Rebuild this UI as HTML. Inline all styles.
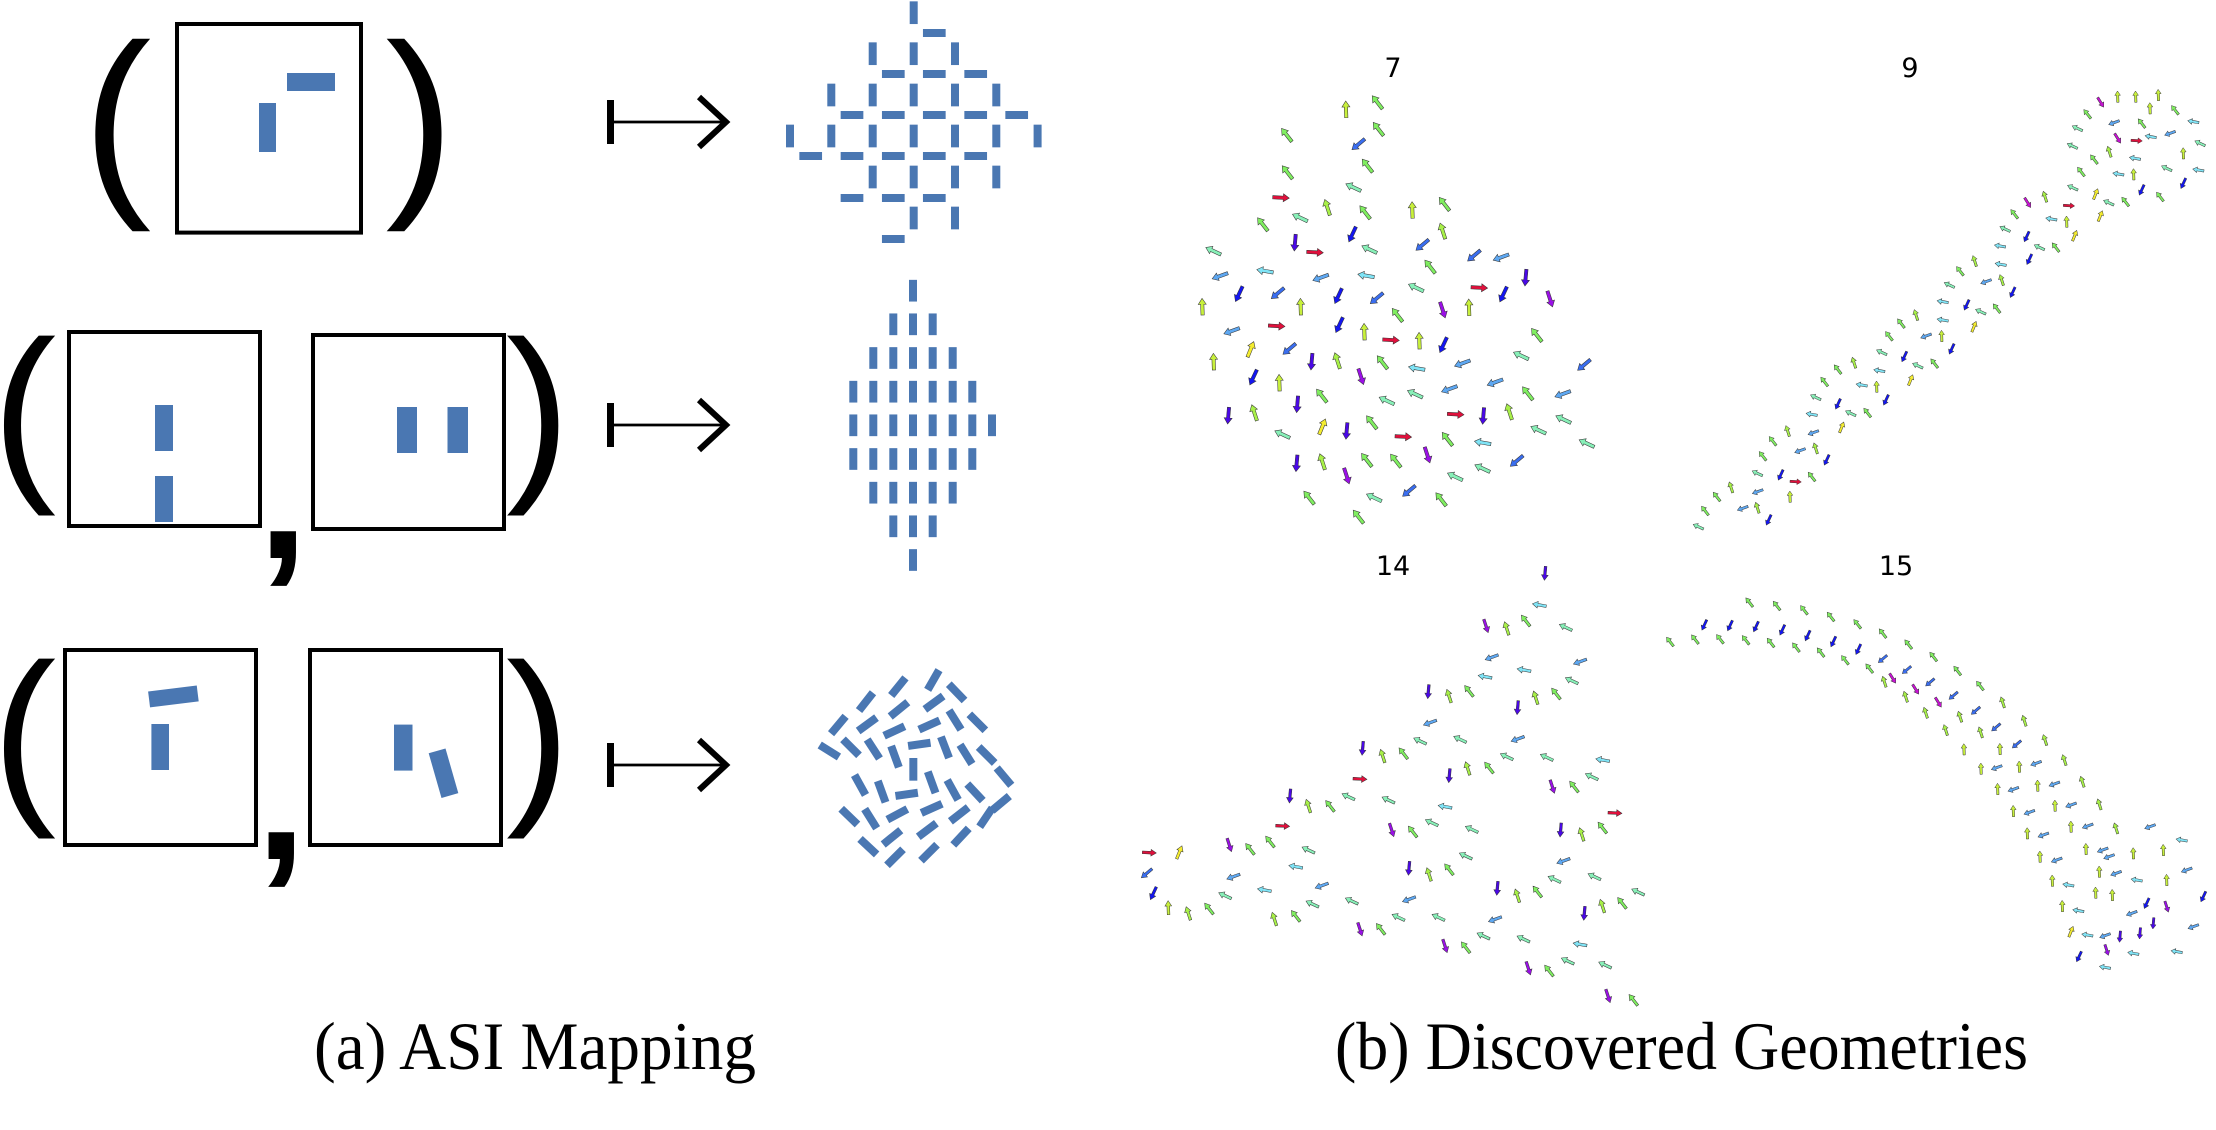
<!DOCTYPE html>
<html><head><meta charset="utf-8"><style>html,body{margin:0;padding:0;background:#fff}svg{display:block}</style></head><body>
<svg xmlns="http://www.w3.org/2000/svg" width="2216" height="1130" viewBox="0 0 2216 1130">
<defs>
<path id="A" d="M-25,-5L7,-5L7,-12L25,0L7,12L7,5L-25,5Z" stroke="#333" stroke-width="1.6"/>
<path id="B" d="M-21,-4L5,-4L5,-10L21,0L5,10L5,4L-21,4Z" stroke="#333" stroke-width="1.5"/>
<path id="C" d="M-17,-3.5L4,-3.5L4,-8.5L17,0L4,8.5L4,3.5L-17,3.5Z" stroke="#333" stroke-width="1.4"/>
<use id="Au" href="#A" transform="rotate(-92)" fill="#c8f03c"/><use id="Av" href="#A" transform="rotate(-108)" fill="#a8f048"/><use id="Ag" href="#A" transform="rotate(-128)" fill="#80ee60"/><use id="Am" href="#A" transform="rotate(-155)" fill="#88f0b8"/><use id="Ac" href="#A" transform="rotate(-170)" fill="#80e4f6"/><use id="As" href="#A" transform="rotate(160)" fill="#5ea8f2"/><use id="Ab" href="#A" transform="rotate(140)" fill="#3a6ef0"/><use id="An" href="#A" transform="rotate(115)" fill="#1416f0"/><use id="Ad" href="#A" transform="rotate(95)" fill="#4a08e6"/><use id="Ap" href="#A" transform="rotate(72)" fill="#9a10e6"/><use id="Ak" href="#A" transform="rotate(58)" fill="#c812d4"/><use id="Ar" href="#A" transform="rotate(3)" fill="#e0103c"/><use id="Ay" href="#A" transform="rotate(-68)" fill="#f4ec30"/>
<use id="Bu" href="#B" transform="rotate(-92)" fill="#c8f03c"/><use id="Bv" href="#B" transform="rotate(-108)" fill="#a8f048"/><use id="Bg" href="#B" transform="rotate(-128)" fill="#80ee60"/><use id="Bm" href="#B" transform="rotate(-155)" fill="#88f0b8"/><use id="Bc" href="#B" transform="rotate(-170)" fill="#80e4f6"/><use id="Bs" href="#B" transform="rotate(160)" fill="#5ea8f2"/><use id="Bb" href="#B" transform="rotate(140)" fill="#3a6ef0"/><use id="Bn" href="#B" transform="rotate(115)" fill="#1416f0"/><use id="Bd" href="#B" transform="rotate(95)" fill="#4a08e6"/><use id="Bp" href="#B" transform="rotate(72)" fill="#9a10e6"/><use id="Bk" href="#B" transform="rotate(58)" fill="#c812d4"/><use id="Br" href="#B" transform="rotate(3)" fill="#e0103c"/><use id="By" href="#B" transform="rotate(-68)" fill="#f4ec30"/>
<use id="Cu" href="#C" transform="rotate(-92)" fill="#c8f03c"/><use id="Cv" href="#C" transform="rotate(-108)" fill="#a8f048"/><use id="Cg" href="#C" transform="rotate(-128)" fill="#80ee60"/><use id="Cm" href="#C" transform="rotate(-155)" fill="#88f0b8"/><use id="Cc" href="#C" transform="rotate(-170)" fill="#80e4f6"/><use id="Cs" href="#C" transform="rotate(160)" fill="#5ea8f2"/><use id="Cb" href="#C" transform="rotate(140)" fill="#3a6ef0"/><use id="Cn" href="#C" transform="rotate(115)" fill="#1416f0"/><use id="Cd" href="#C" transform="rotate(95)" fill="#4a08e6"/><use id="Cp" href="#C" transform="rotate(72)" fill="#9a10e6"/><use id="Ck" href="#C" transform="rotate(58)" fill="#c812d4"/><use id="Cr" href="#C" transform="rotate(3)" fill="#e0103c"/><use id="Cy" href="#C" transform="rotate(-68)" fill="#f4ec30"/>
<rect id="V" x="-4" y="-11.35" width="8" height="22.7"/>
<rect id="H" x="-11.35" y="-4" width="22.7" height="8"/>
<rect id="W" x="-4" y="-10.85" width="8" height="21.7"/>
<rect id="Z" x="-34" y="-12" width="68" height="24"/>
</defs>

<!-- LEFT PANEL -->
<g font-family="Liberation Sans, Arial, sans-serif" fill="#000">
<text x="82.5" y="188.5" font-size="206.7">(</text>
<text x="385.5" y="188.5" font-size="206.7">)</text>
<text x="-8" y="475.5" font-size="193">(</text>
<text x="506" y="475.5" font-size="193">)</text>
<text x="-8" y="798.5" font-size="193">(</text>
<text x="506" y="798.5" font-size="193">)</text>
<text x="258" y="558" font-size="180" font-weight="bold">,</text>
<text x="256" y="859" font-size="180" font-weight="bold">,</text>
</g>
<g fill="none" stroke="#000" stroke-width="4">
<rect x="177" y="24" width="184" height="208.6"/>
<rect x="69" y="332" width="191" height="194"/>
<rect x="313" y="335" width="191" height="194"/>
<rect x="65" y="650" width="191" height="195"/>
<rect x="310" y="650" width="191" height="195"/>
</g>
<g fill="#4a77b2">
<rect x="287" y="73" width="48" height="18"/>
<rect x="259" y="103" width="17" height="49"/>
<rect x="155" y="405" width="18" height="46"/>
<rect x="155" y="476" width="18" height="46"/>
<rect x="397" y="407" width="20" height="46"/>
<rect x="447.5" y="407" width="20.5" height="46"/>
<rect x="-24.5" y="-8" width="49" height="16" transform="translate(173.4,696.4) rotate(-7)"/>
<rect x="151.4" y="724" width="17.6" height="46"/>
<rect x="394" y="724.6" width="18.5" height="46"/>
<rect x="-8.75" y="-23.25" width="17.5" height="46.5" transform="translate(443.5,773.2) rotate(-16)"/>
</g>

<!-- maps-to arrows -->
<g fill="#000" stroke="#000">
<rect x="607" y="100" width="7" height="44" stroke="none"/>
<line x1="613" y1="122" x2="726" y2="122" stroke-width="2.8"/>
<polyline points="699,97 726,122 699,147" fill="none" stroke-width="6"/>
<rect x="607" y="403" width="7" height="44" stroke="none"/>
<line x1="613" y1="425" x2="726" y2="425" stroke-width="2.8"/>
<polyline points="699,400 726,425 699,450" fill="none" stroke-width="6"/>
<rect x="607" y="743" width="7" height="44" stroke="none"/>
<line x1="613" y1="765" x2="726" y2="765" stroke-width="2.8"/>
<polyline points="699,740 726,765 699,790" fill="none" stroke-width="6"/>
</g>

<!-- top pattern -->
<g fill="#4a77b2">
<use href="#V" x="913.7" y="12.7"/>
<use href="#H" x="934.3" y="33"/>
<use href="#V" x="872.7" y="53.7"/><use href="#V" x="913.7" y="53.7"/><use href="#V" x="955" y="53.7"/>
<use href="#H" x="893.3" y="74"/><use href="#H" x="934.3" y="74"/><use href="#H" x="975.7" y="74"/>
<use href="#V" x="831.3" y="95"/><use href="#V" x="872.7" y="95"/><use href="#V" x="913.7" y="95"/><use href="#V" x="955" y="95"/><use href="#V" x="996.3" y="95"/>
<use href="#H" x="852" y="115"/><use href="#H" x="893.3" y="115"/><use href="#H" x="934.3" y="115"/><use href="#H" x="975.7" y="115"/><use href="#H" x="1016.7" y="115"/>
<use href="#V" x="790" y="136"/><use href="#V" x="831.3" y="136"/><use href="#V" x="872.7" y="136"/><use href="#V" x="913.7" y="136"/><use href="#V" x="955" y="136"/><use href="#V" x="996.3" y="136"/><use href="#V" x="1037.6" y="136"/>
<use href="#H" x="810.7" y="156"/><use href="#H" x="852" y="156"/><use href="#H" x="893.3" y="156"/><use href="#H" x="934.3" y="156"/><use href="#H" x="975.7" y="156"/>
<use href="#V" x="872.7" y="177"/><use href="#V" x="913.7" y="177"/><use href="#V" x="955" y="177"/><use href="#V" x="996.3" y="177"/>
<use href="#H" x="852" y="198"/><use href="#H" x="893.3" y="198"/><use href="#H" x="934.3" y="198"/>
<use href="#V" x="913.7" y="218"/><use href="#V" x="955" y="218"/>
<use href="#H" x="893.3" y="239"/>
</g>

<!-- middle pattern -->
<g fill="#4a77b2">
<use href="#W" x="913" y="290.7"/>
<use href="#W" x="893.3" y="324.3"/><use href="#W" x="913" y="324.3"/><use href="#W" x="932.7" y="324.3"/>
<use href="#W" x="873.3" y="358"/><use href="#W" x="893.3" y="358"/><use href="#W" x="913" y="358"/><use href="#W" x="932.7" y="358"/><use href="#W" x="952.7" y="358"/>
<use href="#W" x="853.3" y="391.7"/><use href="#W" x="873.3" y="391.7"/><use href="#W" x="893.3" y="391.7"/><use href="#W" x="913" y="391.7"/><use href="#W" x="932.7" y="391.7"/><use href="#W" x="952.7" y="391.7"/><use href="#W" x="972.3" y="391.7"/>
<use href="#W" x="853.3" y="425.3"/><use href="#W" x="873.3" y="425.3"/><use href="#W" x="893.3" y="425.3"/><use href="#W" x="913" y="425.3"/><use href="#W" x="932.7" y="425.3"/><use href="#W" x="952.7" y="425.3"/><use href="#W" x="972.3" y="425.3"/><use href="#W" x="992" y="425.3"/>
<use href="#W" x="853.3" y="459"/><use href="#W" x="873.3" y="459"/><use href="#W" x="893.3" y="459"/><use href="#W" x="913" y="459"/><use href="#W" x="932.7" y="459"/><use href="#W" x="952.7" y="459"/><use href="#W" x="972.3" y="459"/>
<use href="#W" x="873.3" y="492.7"/><use href="#W" x="893.3" y="492.7"/><use href="#W" x="913" y="492.7"/><use href="#W" x="932.7" y="492.7"/><use href="#W" x="952.7" y="492.7"/>
<use href="#W" x="893.3" y="526.3"/><use href="#W" x="913" y="526.3"/><use href="#W" x="932.7" y="526.3"/>
<use href="#W" x="913" y="560"/>
</g>

<!-- bottom pattern -->
<g fill="#4a77b2" transform="translate(780,630) scale(0.33333)">
<use href="#Z" transform="translate(460,150) rotate(-60)"/>
<use href="#Z" transform="translate(355,170) rotate(-51)"/>
<use href="#Z" transform="translate(530,187) rotate(46)"/>
<use href="#Z" transform="translate(258,215) rotate(-52)"/>
<use href="#Z" transform="translate(462,218) rotate(-36)"/>
<use href="#Z" transform="translate(357,238) rotate(-39)"/>
<use href="#Z" transform="translate(175,285) rotate(-50)"/>
<use href="#Z" transform="translate(262,283) rotate(-36)"/>
<use href="#Z" transform="translate(525,270) rotate(58)"/>
<use href="#Z" transform="translate(592,277) rotate(45)"/>
<use href="#Z" transform="translate(448,285) rotate(-24)"/>
<use href="#Z" transform="translate(343,303) rotate(-25)"/>
<use href="#Z" transform="translate(148,363) rotate(32)"/>
<use href="#Z" transform="translate(213,352) rotate(45)"/>
<use href="#Z" transform="translate(280,357) rotate(57)"/>
<use href="#Z" transform="translate(418,343) rotate(-8)"/>
<use href="#Z" transform="translate(495,352) rotate(69)"/>
<use href="#Z" transform="translate(558,373) rotate(58)"/>
<use href="#Z" transform="translate(620,375) rotate(45)"/>
<use href="#Z" transform="translate(345,380) rotate(70)"/>
<use href="#Z" transform="translate(400,418) rotate(90)"/>
<use href="#Z" transform="translate(240,465) rotate(61)"/>
<use href="#Z" transform="translate(305,485) rotate(70)"/>
<use href="#Z" transform="translate(380,493) rotate(-8)"/>
<use href="#Z" transform="translate(455,457) rotate(70)"/>
<use href="#Z" transform="translate(518,480) rotate(61)"/>
<use href="#Z" transform="translate(585,487) rotate(47)"/>
<use href="#Z" transform="translate(208,560) rotate(44)"/>
<use href="#Z" transform="translate(272,566) rotate(58)"/>
<use href="#Z" transform="translate(352,553) rotate(-28)"/>
<use href="#Z" transform="translate(455,535) rotate(-24)"/>
<use href="#Z" transform="translate(538,553) rotate(-38)"/>
<use href="#Z" transform="translate(618,562) rotate(-56)"/>
<use href="#Z" transform="translate(265,650) rotate(43)"/>
<use href="#Z" transform="translate(336,622) rotate(-39)"/>
<use href="#Z" transform="translate(442,600) rotate(-37)"/>
<use href="#Z" transform="translate(543,620) rotate(-47)"/>
<use href="#Z" transform="translate(345,682) rotate(-45)"/>
<use href="#Z" transform="translate(447,668) rotate(-45)"/>
<use href="#Z" transform="translate(672,440) rotate(50)"/>
<use href="#Z" transform="translate(662,520) rotate(-40)"/>
</g>

<!-- captions -->
<g font-family="Liberation Serif, DejaVu Serif, serif" font-size="68" fill="#000">
<text x="314" y="1069" textLength="442" lengthAdjust="spacingAndGlyphs">(a) ASI Mapping</text>
<text x="1335" y="1069" textLength="693" lengthAdjust="spacingAndGlyphs">(b) Discovered Geometries</text>
</g>

<!-- plot labels -->
<g font-family="DejaVu Sans, Liberation Sans, sans-serif" font-size="27" fill="#000" text-anchor="middle">
<text x="1393" y="77">7</text>
<text x="1910" y="77">9</text>
<text x="1393" y="575">14</text>
<text x="1896" y="575">15</text>
</g>

<!-- plot 7 -->
<g transform="translate(1090,50) scale(0.33333)">
<use href="#Au" x="768" y="178"/><use href="#Ag" x="862" y="157"/>
<use href="#Ag" x="590" y="255"/><use href="#Ag" x="865" y="237"/>
<use href="#Ab" x="805" y="283"/>
<use href="#Ag" x="592" y="367"/><use href="#Ag" x="832" y="347"/>
<use href="#Am" x="790" y="412"/>
<use href="#Ar" x="573" y="443"/>
<use href="#Av" x="712" y="472"/><use href="#Ag" x="825" y="487"/><use href="#Au" x="967" y="480"/><use href="#Ag" x="1063" y="462"/>
<use href="#Ag" x="518" y="523"/><use href="#Am" x="630" y="503"/>
<use href="#Av" x="1058" y="543"/>
<use href="#An" x="787" y="553"/><use href="#Ad" x="615" y="578"/><use href="#Ar" x="675" y="607"/><use href="#Am" x="838" y="598"/>
<use href="#Ab" x="997" y="585"/>
<use href="#Am" x="370" y="603"/>
<use href="#Ab" x="1152" y="617"/><use href="#As" x="1233" y="622"/>
<use href="#Ag" x="1020" y="650"/>
<use href="#Ac" x="525" y="663"/><use href="#As" x="390" y="678"/><use href="#As" x="692" y="683"/><use href="#Ac" x="828" y="677"/>
<use href="#Ad" x="1307" y="683"/>
<use href="#Am" x="978" y="713"/><use href="#Ar" x="1168" y="713"/><use href="#An" x="1240" y="733"/>
<use href="#An" x="447" y="732"/><use href="#Ab" x="563" y="730"/><use href="#An" x="745" y="738"/><use href="#Ab" x="860" y="745"/>
<use href="#Ap" x="1380" y="747"/>
<use href="#Au" x="337" y="770"/><use href="#Au" x="632" y="770"/><use href="#Ap" x="1058" y="780"/><use href="#Au" x="1137" y="772"/>
<use href="#Ag" x="922" y="795"/>
<use href="#As" x="425" y="843"/><use href="#Ar" x="560" y="828"/><use href="#An" x="748" y="825"/><use href="#Au" x="823" y="845"/><use href="#Ar" x="903" y="870"/><use href="#Au" x="988" y="872"/><use href="#An" x="1060" y="885"/>
<use href="#Ag" x="1340" y="855"/>
<use href="#Ay" x="482" y="898"/><use href="#Ab" x="598" y="897"/><use href="#Au" x="371" y="935"/><use href="#Ad" x="665" y="935"/><use href="#Av" x="742" y="932"/><use href="#Ag" x="877" y="937"/>
<use href="#Am" x="1293" y="917"/>
<use href="#Ac" x="980" y="955"/><use href="#As" x="1117" y="940"/>
<use href="#An" x="490" y="982"/><use href="#Au" x="568" y="998"/><use href="#Ap" x="813" y="980"/>
<use href="#As" x="1215" y="997"/>
<use href="#As" x="1078" y="1017"/><use href="#Am" x="975" y="1032"/><use href="#Ag" x="1313" y="1030"/><use href="#As" x="1418" y="1032"/>
<use href="#Ag" x="695" y="1037"/><use href="#Am" x="890" y="1052"/><use href="#Ad" x="622" y="1063"/>
<use href="#Ad" x="415" y="1097"/><use href="#Av" x="493" y="1088"/><use href="#Ar" x="1097" y="1093"/><use href="#Ad" x="1180" y="1098"/><use href="#Av" x="1258" y="1085"/>
<use href="#Am" x="1420" y="1108"/>
<use href="#Am" x="577" y="1153"/><use href="#Ay" x="697" y="1130"/><use href="#Ad" x="770" y="1143"/><use href="#Ag" x="845" y="1117"/><use href="#Ar" x="940" y="1160"/><use href="#Am" x="1345" y="1140"/>
<use href="#Ag" x="1072" y="1167"/><use href="#Ac" x="1178" y="1178"/>
<use href="#Ap" x="1012" y="1215"/>
<use href="#Ad" x="620" y="1240"/><use href="#Av" x="697" y="1235"/><use href="#Ag" x="830" y="1230"/><use href="#Ag" x="917" y="1232"/><use href="#Am" x="1177" y="1255"/><use href="#Ab" x="1280" y="1233"/>
<use href="#Ap" x="770" y="1278"/><use href="#Am" x="1095" y="1280"/>
<use href="#Ag" x="657" y="1343"/><use href="#Am" x="852" y="1343"/><use href="#Ab" x="957" y="1323"/><use href="#Ag" x="1053" y="1348"/>
<use href="#Ag" x="805" y="1400"/>
<use href="#Ab" x="1482" y="945"/><use href="#Am" x="1490" y="1180"/>
</g>

<!-- plot 9 -->
<g transform="translate(1620,50) scale(0.33333)">
<use href="#Ck" x="1442" y="157"/><use href="#Cu" x="1493" y="140"/><use href="#Cu" x="1547" y="140"/>
<use href="#Cg" x="1402" y="192"/><use href="#Cs" x="1482" y="218"/><use href="#Cg" x="1565" y="220"/>
<use href="#Cm" x="1372" y="235"/><use href="#Ck" x="1493" y="265"/><use href="#Cr" x="1550" y="272"/>
<use href="#Cm" x="1357" y="288"/><use href="#Cv" x="1468" y="305"/><use href="#Cg" x="1422" y="328"/><use href="#Cc" x="1545" y="325"/>
<use href="#Cg" x="1383" y="365"/><use href="#Cc" x="1495" y="372"/><use href="#Cu" x="1541" y="373"/><use href="#Cn" x="1565" y="420"/>
<use href="#Cm" x="1358" y="413"/><use href="#Cy" x="1427" y="432"/><use href="#Cm" x="1466" y="458"/><use href="#Cg" x="1516" y="455"/>
<use href="#Ck" x="1223" y="458"/><use href="#Cv" x="1275" y="440"/><use href="#Cr" x="1347" y="467"/>
<use href="#Cg" x="1183" y="492"/><use href="#Cc" x="1294" y="507"/><use href="#Cu" x="1340" y="515"/><use href="#Cy" x="1441" y="498"/>
<use href="#Cm" x="1155" y="537"/><use href="#Cn" x="1220" y="560"/><use href="#Cy" x="1364" y="557"/>
<use href="#Cc" x="1140" y="588"/><use href="#Cm" x="1258" y="592"/><use href="#Cg" x="1307" y="592"/>
<use href="#Cv" x="1064" y="633"/><use href="#Cc" x="1142" y="643"/><use href="#Cn" x="1228" y="628"/>
<use href="#Cg" x="1020" y="663"/><use href="#Cs" x="1098" y="695"/><use href="#Cv" x="1145" y="690"/>
<use href="#Cm" x="988" y="705"/><use href="#Cn" x="1178" y="727"/>
<use href="#Cc" x="968" y="755"/><use href="#Cn" x="1040" y="765"/><use href="#Cm" x="1082" y="785"/><use href="#Cg" x="1130" y="775"/>
<use href="#Cv" x="888" y="795"/><use href="#Cc" x="968" y="810"/><use href="#Cy" x="1062" y="830"/>
<use href="#Cg" x="843" y="820"/><use href="#Cs" x="918" y="858"/><use href="#Cu" x="965" y="858"/><use href="#Cn" x="995" y="897"/>
<use href="#Cg" x="807" y="858"/><use href="#Cm" x="785" y="907"/><use href="#Cn" x="853" y="920"/><use href="#Cm" x="893" y="947"/><use href="#Cg" x="943" y="940"/>
<use href="#Cv" x="702" y="938"/><use href="#Cg" x="653" y="958"/><use href="#Cc" x="778" y="962"/><use href="#Cy" x="872" y="990"/>
<use href="#Cg" x="613" y="995"/><use href="#Cc" x="725" y="1005"/><use href="#Cu" x="770" y="1010"/><use href="#Cn" x="798" y="1050"/>
<use href="#Cm" x="587" y="1042"/><use href="#Cn" x="654" y="1062"/><use href="#Cm" x="692" y="1090"/><use href="#Cg" x="742" y="1088"/>
<use href="#Cc" x="575" y="1093"/><use href="#Cy" x="665" y="1132"/>
<use href="#Cv" x="503" y="1143"/><use href="#Cs" x="580" y="1148"/>
<use href="#Cg" x="458" y="1173"/><use href="#Cs" x="540" y="1202"/><use href="#Cv" x="587" y="1195"/><use href="#Cn" x="620" y="1230"/>
<use href="#Cg" x="428" y="1218"/>
<use href="#Cm" x="412" y="1270"/><use href="#Cn" x="482" y="1275"/><use href="#Cr" x="527" y="1295"/><use href="#Cg" x="575" y="1280"/>
<use href="#Cv" x="333" y="1312"/><use href="#Cg" x="290" y="1340"/><use href="#Cs" x="413" y="1325"/><use href="#Cu" x="510" y="1340"/>
<use href="#Cg" x="255" y="1382"/><use href="#Cs" x="368" y="1375"/><use href="#Cv" x="412" y="1373"/><use href="#Cn" x="446" y="1410"/>
<use href="#Cm" x="235" y="1430"/>
<use href="#Cu" x="1590" y="175"/><use href="#Cc" x="1592" y="260"/>
<use href="#Cu" x="1615" y="135"/><use href="#Cg" x="1665" y="180"/><use href="#Cc" x="1720" y="215"/><use href="#Cs" x="1650" y="250"/><use href="#Cm" x="1740" y="280"/><use href="#Cu" x="1690" y="310"/><use href="#Cc" x="1735" y="360"/><use href="#Cm" x="1640" y="355"/><use href="#Cn" x="1690" y="400"/><use href="#Cg" x="1620" y="440"/>
</g>

<!-- plot 14 -->
<g transform="translate(1090,520) scale(0.33333)">
<use href="#Bd" x="1365" y="160"/>
<use href="#Bc" x="1348" y="255"/>
<use href="#Bp" x="1188" y="318"/><use href="#Bv" x="1250" y="325"/><use href="#Bg" x="1307" y="302"/><use href="#Bm" x="1427" y="322"/>
<use href="#Bs" x="1205" y="412"/><use href="#Bc" x="1302" y="450"/><use href="#Bs" x="1470" y="425"/>
<use href="#Bc" x="1185" y="470"/><use href="#Bm" x="1445" y="482"/>
<use href="#Bd" x="1015" y="515"/><use href="#Bv" x="1077" y="528"/><use href="#Bg" x="1137" y="513"/><use href="#Bv" x="1337" y="533"/><use href="#Bg" x="1398" y="521"/>
<use href="#Bd" x="1283" y="563"/>
<use href="#Bs" x="1020" y="608"/>
<use href="#Bm" x="990" y="663"/><use href="#Bm" x="1110" y="658"/><use href="#Bs" x="1283" y="657"/>
<use href="#Bd" x="818" y="685"/><use href="#Bv" x="878" y="708"/><use href="#Bg" x="940" y="700"/>
<use href="#Bm" x="1250" y="710"/><use href="#Bm" x="1370" y="712"/><use href="#Bc" x="1538" y="720"/>
<use href="#Bd" x="1078" y="767"/><use href="#Bv" x="1133" y="745"/><use href="#Bg" x="1197" y="743"/>
<use href="#Br" x="810" y="777"/><use href="#Bp" x="1387" y="800"/><use href="#Bg" x="1452" y="800"/><use href="#Bm" x="1505" y="770"/>
<use href="#Bd" x="600" y="828"/><use href="#Bv" x="655" y="858"/><use href="#Bg" x="720" y="858"/><use href="#Bm" x="775" y="830"/><use href="#Bm" x="895" y="840"/>
<use href="#Bc" x="1065" y="860"/>
<use href="#Br" x="578" y="918"/><use href="#Bp" x="905" y="930"/><use href="#Bg" x="968" y="935"/><use href="#Bm" x="1025" y="908"/><use href="#Bm" x="1145" y="928"/>
<use href="#Bd" x="1412" y="930"/><use href="#Bv" x="1475" y="943"/><use href="#Bg" x="1537" y="923"/>
<use href="#Br" x="178" y="998"/><use href="#By" x="268" y="997"/><use href="#Bp" x="418" y="975"/><use href="#Bg" x="480" y="987"/><use href="#Bg" x="540" y="965"/>
<use href="#Bm" x="655" y="990"/>
<use href="#Bc" x="617" y="1040"/><use href="#Bm" x="1127" y="1008"/>
<use href="#Bb" x="170" y="1060"/><use href="#Bs" x="430" y="1070"/><use href="#Bd" x="957" y="1045"/><use href="#Bv" x="1017" y="1063"/><use href="#Bg" x="1077" y="1048"/>
<use href="#Bs" x="1420" y="1023"/>
<use href="#Bn" x="190" y="1120"/><use href="#Bm" x="405" y="1127"/><use href="#Bc" x="523" y="1110"/><use href="#Bs" x="695" y="1097"/>
<use href="#Bd" x="1222" y="1105"/><use href="#Bv" x="1282" y="1127"/><use href="#Bg" x="1342" y="1115"/><use href="#Bm" x="1393" y="1078"/><use href="#Bm" x="1513" y="1070"/>
<use href="#Bu" x="235" y="1163"/><use href="#Bv" x="295" y="1180"/><use href="#Bg" x="357" y="1166"/><use href="#Bm" x="667" y="1152"/><use href="#Bm" x="785" y="1143"/><use href="#Bs" x="957" y="1138"/>
<use href="#Bv" x="1537" y="1158"/>
<use href="#Bv" x="553" y="1197"/><use href="#Bg" x="617" y="1188"/><use href="#Bm" x="925" y="1192"/><use href="#Bm" x="1045" y="1192"/><use href="#Bs" x="1215" y="1198"/>
<use href="#Bd" x="1483" y="1180"/>
<use href="#Bp" x="810" y="1228"/><use href="#Bg" x="872" y="1227"/>
<use href="#Bp" x="1065" y="1278"/><use href="#Bg" x="1127" y="1282"/><use href="#Bm" x="1180" y="1248"/><use href="#Bm" x="1300" y="1257"/><use href="#Bc" x="1470" y="1273"/>
<use href="#Bp" x="1315" y="1345"/><use href="#Bg" x="1377" y="1352"/><use href="#Bm" x="1433" y="1323"/><use href="#Bm" x="1545" y="1335"/>
<use href="#Br" x="1575" y="879"/><use href="#Bm" x="1644" y="1116"/><use href="#Bg" x="1596" y="1149"/>
<use href="#Bp" x="1554" y="1428"/><use href="#Bg" x="1630" y="1440"/>
</g>

<!-- plot 15 -->
<g transform="translate(1600,520) scale(0.33333)">
<use href="#Cg" x="448" y="247"/><use href="#Cg" x="530" y="257"/><use href="#Cg" x="612" y="270"/><use href="#Cg" x="692" y="290"/><use href="#Cg" x="772" y="312"/><use href="#Cg" x="848" y="340"/><use href="#Cg" x="925" y="373"/><use href="#Cg" x="1000" y="410"/><use href="#Cg" x="1072" y="452"/><use href="#Cg" x="1140" y="497"/><use href="#Cv" x="1208" y="547"/><use href="#Cv" x="1273" y="602"/><use href="#Cv" x="1335" y="660"/><use href="#Cv" x="1393" y="720"/><use href="#Cv" x="1447" y="785"/><use href="#Cv" x="1498" y="853"/><use href="#Cv" x="1548" y="925"/>
<use href="#Cn" x="313" y="315"/><use href="#Cn" x="390" y="317"/><use href="#Cn" x="468" y="320"/><use href="#Cn" x="547" y="330"/><use href="#Cn" x="623" y="347"/><use href="#Cn" x="700" y="365"/><use href="#Cn" x="775" y="388"/><use href="#Cb" x="848" y="417"/><use href="#Cb" x="920" y="450"/><use href="#Cb" x="990" y="487"/><use href="#Cb" x="1060" y="527"/><use href="#Cb" x="1127" y="572"/><use href="#Cb" x="1188" y="622"/><use href="#Cb" x="1250" y="673"/><use href="#Cs" x="1308" y="730"/><use href="#Cs" x="1363" y="792"/><use href="#Cs" x="1413" y="855"/><use href="#Cs" x="1463" y="918"/><use href="#Cs" x="1508" y="990"/><use href="#Cs" x="1527" y="1010"/>
<use href="#Ck" x="878" y="475"/><use href="#Ck" x="947" y="508"/><use href="#Ck" x="1015" y="547"/>
<use href="#Cg" x="210" y="365"/><use href="#Cg" x="285" y="358"/><use href="#Cg" x="360" y="357"/><use href="#Cg" x="437" y="360"/><use href="#Cg" x="512" y="368"/><use href="#Cg" x="588" y="382"/><use href="#Cg" x="662" y="397"/><use href="#Cg" x="735" y="420"/><use href="#Cg" x="808" y="445"/><use href="#Cv" x="853" y="485"/><use href="#Cv" x="917" y="530"/><use href="#Cv" x="977" y="578"/><use href="#Cv" x="1037" y="630"/><use href="#Cu" x="1092" y="688"/><use href="#Cu" x="1143" y="746"/><use href="#Cu" x="1193" y="807"/><use href="#Cu" x="1240" y="873"/><use href="#Cu" x="1282" y="940"/><use href="#Cu" x="1320" y="1010"/><use href="#Cu" x="1357" y="1082"/><use href="#Cu" x="1387" y="1158"/><use href="#Cy" x="1413" y="1235"/>
<use href="#Cv" x="1080" y="590"/><use href="#Cv" x="1142" y="637"/><use href="#Cu" x="1200" y="687"/><use href="#Cu" x="1258" y="740"/><use href="#Cu" x="1313" y="797"/><use href="#Cu" x="1365" y="857"/><use href="#Cu" x="1413" y="920"/><use href="#Cu" x="1458" y="987"/><use href="#Cu" x="1498" y="1055"/><use href="#Cu" x="1487" y="1118"/><use href="#Cu" x="1537" y="1125"/>
<use href="#Cs" x="1190" y="743"/><use href="#Cs" x="1240" y="808"/><use href="#Cs" x="1288" y="877"/><use href="#Cs" x="1330" y="945"/><use href="#Cs" x="1370" y="1020"/><use href="#Cc" x="1405" y="1095"/><use href="#Cc" x="1435" y="1172"/><use href="#Cc" x="1462" y="1245"/><use href="#Cs" x="1515" y="1247"/><use href="#Cs" x="1548" y="1060"/>
<use href="#Cn" x="1437" y="1310"/><use href="#Cp" x="1520" y="1290"/><use href="#Cc" x="1515" y="1342"/><use href="#Cd" x="1560" y="1250"/>
<use href="#Cu" x="1600" y="1000"/><use href="#Cc" x="1610" y="1080"/><use href="#Cs" x="1595" y="1180"/><use href="#Cd" x="1620" y="1240"/><use href="#Cc" x="1600" y="1300"/><use href="#Cn" x="1640" y="1150"/>
<use href="#Cs" x="1650" y="920"/><use href="#Cu" x="1690" y="990"/><use href="#Cc" x="1745" y="960"/><use href="#Cu" x="1700" y="1080"/><use href="#Cs" x="1760" y="1050"/><use href="#Cn" x="1810" y="1130"/><use href="#Cd" x="1660" y="1210"/><use href="#Cs" x="1780" y="1220"/><use href="#Cc" x="1730" y="1295"/><use href="#Cp" x="1700" y="1160"/>
</g>
</svg>
</body></html>
